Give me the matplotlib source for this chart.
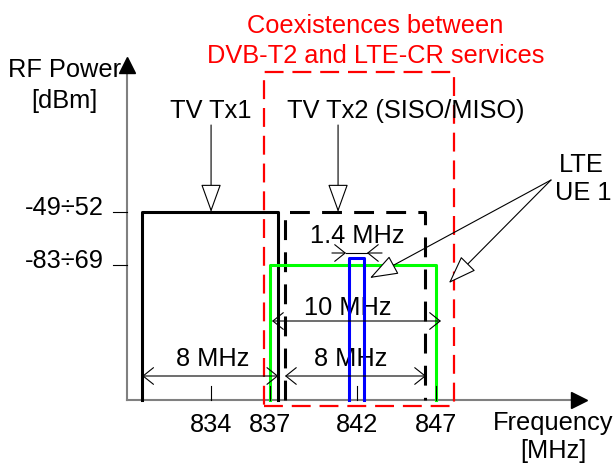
import matplotlib

matplotlib.use("Agg")

from matplotlib import pyplot as plt
from matplotlib.patches import FancyArrowPatch, Rectangle

# schematic spectrum data (x in MHz as placed on the sketch, y in level units)
freq_ticks = [833.45, 837.0, 842.24, 847.0]
freq_labels = ["834", "837", "842", "847"]
level_ticks = [188, 135]
level_labels = ["-49\u00f752", "-83\u00f769"]

tx1_band = (829.3, 837.5)
tx2_band = (837.9, 846.35)
lte_band = (837.0, 847.0)
cr_band = (841.75, 842.65)
coexist_band = (836.65, 848.1)
cr_level = 142
coexist_top = 328

plt.rcParams["font.family"] = ["Liberation Sans", "DejaVu Sans"]
FS = 18.3

fig = plt.figure(figsize=(6.15, 4.66), dpi=100)
ax = fig.add_axes([0, 0, 1, 1])
ax.set_xlim(820.735, 857.783)
ax.set_ylim(-66, 400)
ax.axis("off")

AX_X = 828.39


def band(x0, x1, top, **kw):
    ax.plot([x0, x0, x1, x1], [0, top, top, 0], **kw)


def dim_arrow(x0, x1, y, style="<->"):
    ax.add_patch(FancyArrowPatch((x0, y), (x1, y), arrowstyle=f"{style},head_length=7.5,head_width=6",
                                 mutation_scale=1, shrinkA=0, shrinkB=0, lw=0.8, color="black", zorder=6))


def open_arrow(p0, p1):
    ax.add_patch(FancyArrowPatch(p0, p1, arrowstyle="-|>,head_length=18,head_width=6.5",
                                 mutation_scale=1, shrinkA=0, shrinkB=0, lw=0.8,
                                 edgecolor="black", facecolor="white", zorder=7))


# axes
ax.plot([AX_X, AX_X], [0, 330], color="#808080", lw=1.5, zorder=2)
ax.plot([AX_X, 855.2], [0, 0], color="#808080", lw=1.5, zorder=2)
ax.plot([AX_X], [335], marker="^", ms=11.5, color="black", zorder=3)
ax.plot([855.61], [0], marker=">", ms=11.5, color="black", zorder=3)

for y, lab in zip(level_ticks, level_labels):
    ax.plot([AX_X - 0.85, AX_X], [y, y], color="black", lw=0.8)
    ax.text(827.0, y - 3, lab, fontsize=FS, ha="right", va="baseline")

for x, lab in zip(freq_ticks, freq_labels):
    ax.plot([x, x], [0, 14], color="black", lw=0.8, zorder=6)
    ax.text(x, -32, lab, fontsize=FS, ha="center", va="baseline")

ax.text(824.6, 323, "RF Power", fontsize=FS, ha="center", va="baseline")
ax.text(824.6, 292, "[dBm]", fontsize=FS, ha="center", va="baseline")
ax.text(850.4, -30, "Frequency", fontsize=FS, ha="left", va="baseline")
ax.text(854.05, -58, "[MHz]", fontsize=FS, ha="center", va="baseline")

# bands
band(*tx1_band, level_ticks[0], color="black", lw=2.2, zorder=4)
band(*tx2_band, level_ticks[0], color="black", lw=2.2, linestyle=(0, (6.5, 4)), zorder=4)
band(*lte_band, level_ticks[1], color="#00ff00", lw=2.2, zorder=4)
band(*cr_band, cr_level, color="#0000ff", lw=2.2, zorder=5)
ax.add_patch(Rectangle((coexist_band[0], -6), coexist_band[1] - coexist_band[0], coexist_top + 6,
                       fill=False, edgecolor="#ff0000", lw=1.6, linestyle=(0, (8.5, 4)), zorder=3))

ax.text(843.35, 367, "Coexistences between", fontsize=FS, color="#ff0000", ha="center", va="baseline")
ax.text(843.35, 337, "DVB-T2 and LTE-CR services", fontsize=FS, color="#ff0000", ha="center", va="baseline")

# labels with pointers
ax.text(833.45, 282, "TV Tx1", fontsize=FS, ha="center", va="baseline")
ax.text(845.15, 282, "TV Tx2 (SISO/MISO)", fontsize=FS, ha="center", va="baseline")
open_arrow((833.45, 275), (833.45, level_ticks[0]))
open_arrow((841.1, 275), (841.1, level_ticks[0]))

ax.text(855.75, 228, "LTE", fontsize=FS, ha="center", va="baseline")
ax.text(855.9, 200, "UE 1", fontsize=FS, ha="center", va="baseline")
open_arrow((853.93, 220), (843.02, 122))
open_arrow((853.93, 220), (847.78, 117))

# bandwidth dimensions
ax.text(842.24, 157, "1.4 MHz", fontsize=FS, ha="center", va="baseline")
ax.plot([841.58, 842.84], [147, 147], color="black", lw=0.8, zorder=6)
dim_arrow(840.73, 841.58, 147, "->")
dim_arrow(843.75, 842.84, 147, "->")

ax.text(841.7, 85, "10 MHz", fontsize=FS, ha="center", va="baseline")
dim_arrow(837.12, 847.3, 79)

ax.text(841.88, 34, "8 MHz", fontsize=FS, ha="center", va="baseline")
dim_arrow(tx2_band[0], tx2_band[1] + 0.05, 24)
ax.text(833.57, 34, "8 MHz", fontsize=FS, ha="center", va="baseline")
dim_arrow(*tx1_band, 24)

fig.savefig("out.png", dpi=100)
